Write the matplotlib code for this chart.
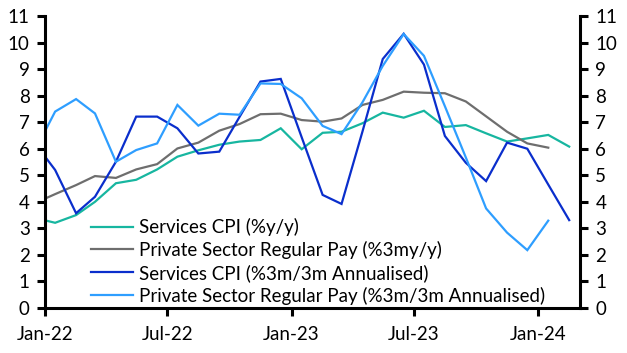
import matplotlib
matplotlib.use("Agg")
import matplotlib.pyplot as plt
import pandas as pd

plt.rcParams['font.family'] = ['Lato', 'DejaVu Sans']

# Monthly data, Dec-21 .. Feb-24
months = pd.date_range("2021-12-01", "2024-02-01", freq="MS")

services_cpi_yy = [3.40, 3.21, 3.50, 4.00, 4.70, 4.83, 5.22, 5.70, 5.94, 6.15, 6.27, 6.33, 6.77,
                   5.98, 6.60, 6.64, 6.96, 7.36, 7.17, 7.43, 6.82, 6.89, 6.58, 6.27, 6.39, 6.52, 6.08]
private_pay_3myy = [3.94, 4.29, 4.63, 4.97, 4.90, 5.22, 5.42, 6.01, 6.23, 6.68, 6.93, 7.30, 7.32,
                    7.08, 7.02, 7.14, 7.65, 7.84, 8.15, 8.11, 8.09, 7.78, 7.22, 6.64, 6.20, 6.04, None]
services_cpi_3m3m = [6.24, 5.20, 3.57, 4.19, 5.51, 7.21, 7.21, 6.77, 5.82, 5.89, 7.20, 8.53, 8.63,
                     6.43, 4.26, 3.92, 6.65, 9.38, 10.33, 9.17, 6.48, 5.47, 4.78, 6.23, 6.00, 4.65, 3.31]
private_pay_3m3m = [5.87, 7.40, 7.87, 7.33, 5.51, 5.95, 6.20, 7.65, 6.87, 7.32, 7.28, 8.46, 8.44,
                    7.90, 6.86, 6.55, 7.75, 9.12, 10.32, 9.50, 7.60, 5.67, 3.75, 2.84, 2.18, 3.29, None]

labels = ["Services CPI (%y/y)",
          "Private Sector Regular Pay (%3my/y)",
          "Services CPI (%3m/3m Annualised)",
          "Private Sector Regular Pay (%3m/3m Annualised)"]
colors = ["#17B6A0", "#6E6E6E", "#0A2ECC", "#2E9EFF"]

tick_dates = pd.to_datetime(["2022-01-01", "2022-07-01", "2023-01-01", "2023-07-01", "2024-01-01"])
tick_labels = ["Jan-22", "Jul-22", "Jan-23", "Jul-23", "Jan-24"]
y_ticks = list(range(0, 12))

fig = plt.figure(figsize=(6.27, 3.53), dpi=100)
ax = fig.add_axes([45/627, 1-308/353, (580-45)/627, (308-16)/353])

xpos = months + pd.Timedelta(days=15)
series = [services_cpi_yy, private_pay_3myy, services_cpi_3m3m, private_pay_3m3m]
for vals, lab, col in zip(series, labels, colors):
    s = pd.Series(vals, index=xpos, dtype=float)
    ax.plot(s.index, s.values, color=col, lw=1.6, label=lab, solid_joinstyle='miter')

ax.set_xlim(pd.Timestamp("2022-01-01"), pd.Timestamp("2024-03-03"))
ax.set_ylim(0, 11)
ax.set_yticks(y_ticks)
ax.set_xticks(tick_dates)
ax.set_xticklabels(tick_labels)

ax.spines['top'].set_visible(False)
for sp in ['left', 'right', 'bottom']:
    ax.spines[sp].set_linewidth(2.2)
    ax.spines[sp].set_color('black')

ax.tick_params(axis='y', which='both', left=True, right=True, labelleft=True, labelright=True,
               direction='out', length=6, width=2.2, labelsize=13.5, pad=5)
ax.tick_params(axis='x', direction='out', length=6, width=2.2, labelsize=13.5, pad=7)

leg = fig.legend(loc='upper left', bbox_to_anchor=(91/627, 1-218/353), frameon=False,
                 fontsize=13.5, handlelength=2.25, handletextpad=0.3, labelspacing=0.26,
                 borderpad=0, borderaxespad=0)

fig.savefig("out.png", dpi=100)
